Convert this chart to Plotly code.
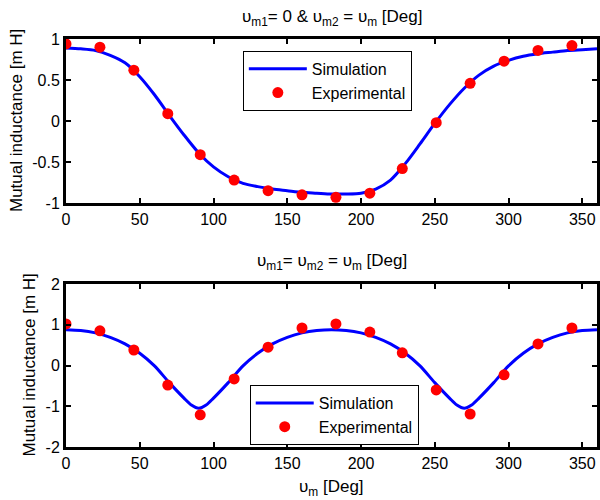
import plotly.graph_objects as go

# Experimental measurement angles [deg]
exp_angle = [0, 23, 46, 69, 91, 114, 137, 160, 183, 206, 228, 251, 274, 297, 320, 343]

# Case 1: rotor 1 fixed at 0, rotor 2 swept
exp_case1 = [0.94, 0.90, 0.62, 0.09, -0.41, -0.72, -0.85, -0.90, -0.93, -0.88,
             -0.58, -0.02, 0.46, 0.73, 0.86, 0.92]
# Case 2: both rotors swept together
exp_case2 = [1.02, 0.85, 0.38, -0.48, -1.21, -0.33, 0.45, 0.92, 1.02, 0.82,
             0.31, -0.60, -1.19, -0.23, 0.53, 0.92]

# Simulated mutual inductance, case 1 [mH]
sim_angle1 = [0, 10, 20, 30, 40, 50, 60, 70, 80, 90, 100, 110, 120, 130, 140,
              150, 160, 170, 180, 190, 200, 210, 220, 230, 240, 250, 260, 270,
              280, 290, 300, 310, 320, 330, 340, 350, 360]
sim_case1 = [0.89, 0.88, 0.86, 0.80, 0.71, 0.54, 0.32, 0.07, -0.17, -0.39,
             -0.56, -0.68, -0.76, -0.80, -0.83, -0.85, -0.87, -0.88, -0.89,
             -0.89, -0.88, -0.83, -0.72, -0.52, -0.28, -0.03, 0.20, 0.40,
             0.56, 0.67, 0.74, 0.79, 0.82, 0.84, 0.86, 0.87, 0.88]

# Simulated mutual inductance, case 2 [mH]
sim_angle2 = [0, 10, 20, 30, 40, 50, 60, 70, 80, 85, 90, 95, 100, 110, 120, 130,
              140, 150, 160, 170, 180, 190, 200, 210, 220, 230, 240, 250, 260,
              265, 270, 275, 280, 290, 300, 310, 320, 330, 340, 350, 360]
sim_case2 = [0.88, 0.86, 0.80, 0.69, 0.53, 0.30, -0.01, -0.42, -0.80, -0.97,
             -1.05, -0.97, -0.80, -0.42, -0.01, 0.30, 0.53, 0.69, 0.80, 0.86,
             0.88, 0.86, 0.80, 0.69, 0.53, 0.30, -0.01, -0.42, -0.80, -0.97,
             -1.05, -0.97, -0.80, -0.42, -0.01, 0.30, 0.53, 0.69, 0.80, 0.86, 0.88]

x_ticks = [0, 50, 100, 150, 200, 250, 300, 350]
y1_ticks = [-1, -0.5, 0, 0.5, 1]
y2_ticks = [-2, -1, 0, 1, 2]

FONT = "Liberation Sans, Arial, sans-serif"
BLUE = "#0000ff"
RED = "#ff0000"

fig = go.Figure()

fig.add_trace(go.Scatter(x=sim_angle1, y=sim_case1, mode="lines", name="Simulation",
                         line=dict(color=BLUE, width=3, shape="spline", smoothing=0.8),
                         xaxis="x", yaxis="y", legend="legend"))
fig.add_trace(go.Scatter(x=exp_angle, y=exp_case1, mode="markers", name="Experimental",
                         marker=dict(color=RED, size=11),
                         xaxis="x", yaxis="y", legend="legend"))
fig.add_trace(go.Scatter(x=sim_angle2, y=sim_case2, mode="lines", name="Simulation",
                         line=dict(color=BLUE, width=3, shape="spline", smoothing=0.8),
                         xaxis="x2", yaxis="y2", legend="legend2"))
fig.add_trace(go.Scatter(x=exp_angle, y=exp_case2, mode="markers", name="Experimental",
                         marker=dict(color=RED, size=11),
                         xaxis="x2", yaxis="y2", legend="legend2"))

axis_style = dict(showline=True, linecolor="black", linewidth=3, mirror="allticks",
                  ticks="inside", ticklen=5, tickwidth=2, tickcolor="black",
                  showgrid=False, zeroline=False,
                  tickfont=dict(family=FONT, size=16, color="black"))

legend_style = dict(bgcolor="white", bordercolor="black", borderwidth=1,
                    font=dict(family=FONT, size=16, color="black"),
                    xanchor="left", yanchor="top", tracegroupgap=0,
                    itemwidth=58)

fig.update_layout(
    width=600, height=500,
    margin=dict(l=66, r=0, t=39, b=53),
    plot_bgcolor="white", paper_bgcolor="white",
    xaxis=dict(domain=[0, 1], range=[0, 360], tickvals=x_ticks, anchor="y", **axis_style),
    yaxis=dict(domain=[0.598, 1], range=[-1, 1], tickvals=y1_ticks,
               ticktext=["-1", "-0.5", "0", "0.5", "1"], anchor="x", **axis_style),
    xaxis2=dict(domain=[0, 1], range=[0, 360], tickvals=x_ticks, anchor="y2", **axis_style),
    yaxis2=dict(domain=[0, 0.3995], range=[-2, 2], tickvals=y2_ticks,
                ticktext=["-2", "-1", "0", "1", "2"], anchor="x2", **axis_style),
    legend=dict(x=0.333, y=0.971, **legend_style),
    legend2=dict(x=0.346, y=0.152, **legend_style),
    showlegend=True,
)

title_font = dict(family=FONT, size=17, color="black")
annotations = [
    dict(text="υ<sub>m1</sub>= 0 &amp; υ<sub>m2</sub> = υ<sub>m</sub> [Deg]",
         x=0.5, y=1.0, xref="x domain", yref="y domain",
         xanchor="center", yanchor="middle", yshift=21),
    dict(text="υ<sub>m1</sub>= υ<sub>m2</sub> = υ<sub>m</sub> [Deg]",
         x=0.5, y=1.0, xref="x2 domain", yref="y2 domain",
         xanchor="center", yanchor="middle", yshift=22),
    dict(text="υ<sub>m</sub> [Deg]", x=0.5, y=0, xref="x2 domain", yref="y2 domain",
         xanchor="center", yanchor="middle", yshift=-41),
    dict(text="Mutual inductance [m H]", textangle=-90, x=0, y=0.5,
         xref="paper", yref="y domain", xanchor="center", yanchor="middle", xshift=-50),
    dict(text="Mutual inductance [m H]", textangle=-90, x=0, y=0.5,
         xref="paper", yref="y2 domain", xanchor="center", yanchor="middle", xshift=-36),
]
for a in annotations:
    fig.add_annotation(showarrow=False, font=title_font, **a)

fig.write_html("out.html")
